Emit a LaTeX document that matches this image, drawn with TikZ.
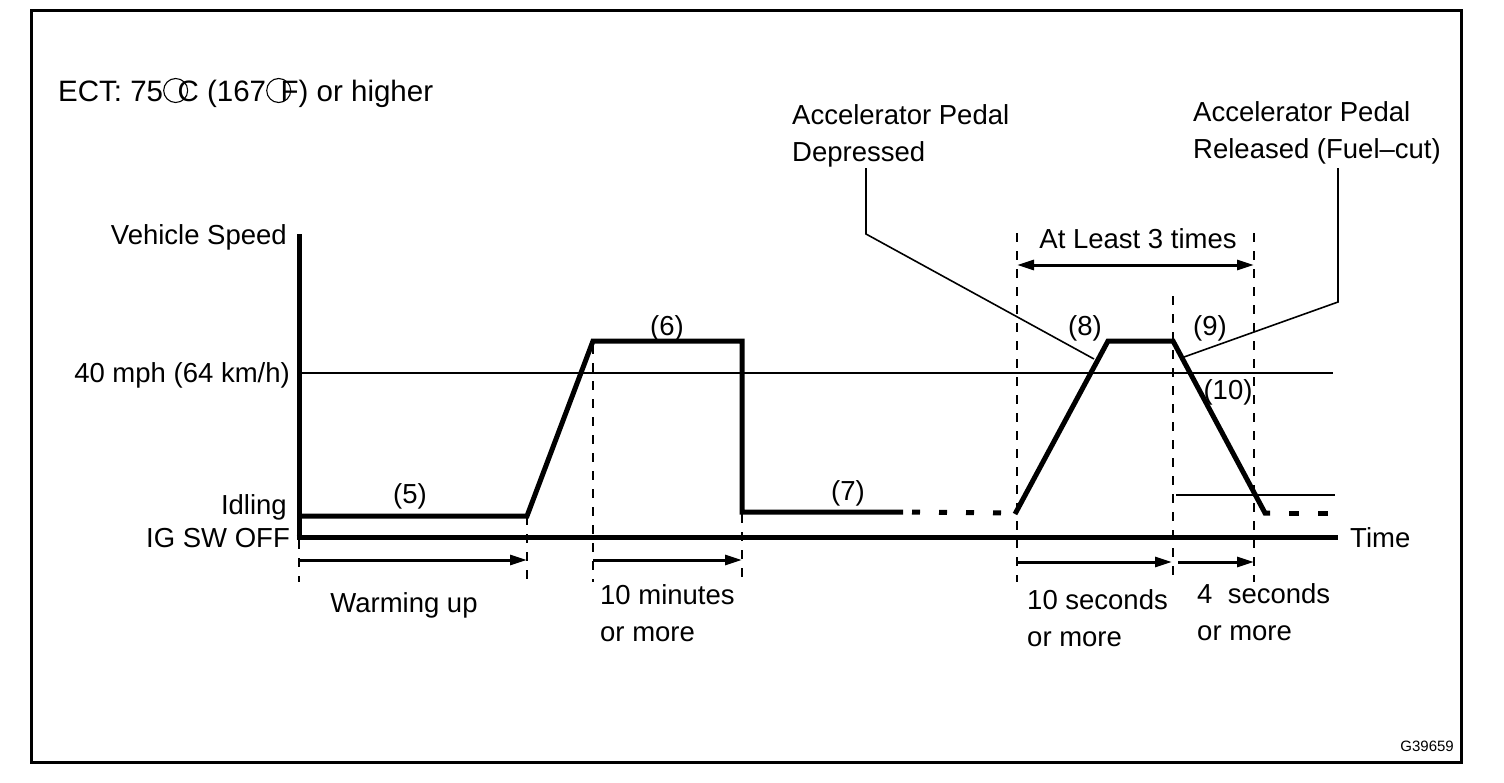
\documentclass[tikz,border=0pt]{standalone}
\usepackage{fontspec}
\setmainfont{Liberation Sans}
\usetikzlibrary{arrows.meta}
\newcommand{\degmark}[1]{\makebox[14.5pt][l]{\tikz[baseline=0pt]\draw[line width=1.1pt] (12.5pt,10.5pt) circle[radius=12pt];}#1}
\begin{document}
\begin{tikzpicture}[x=1pt,y=-1pt,
  lbl/.style={font=\fontsize{27.5}{37}\selectfont, inner sep=0pt, align=left},
  speedline/.style={line width=5pt, line join=miter},
  axisline/.style={line width=5pt},
  guide/.style={line width=1.8pt, dash pattern=on 9pt off 9pt},
  thinline/.style={line width=1.6pt},
  dimarrow/.style={line width=3pt, -{Triangle[length=17pt,width=10pt]}},
  dimarrows/.style={line width=3pt, {Triangle[length=17pt,width=10pt]}-{Triangle[length=17pt,width=10pt]}}]
\useasboundingbox (0,0) rectangle (1504,782);
\draw[line width=3pt] (31,10) rectangle (1461,762);

% axes
\coordinate (ytop) at (299,234);
\coordinate (origin) at (299,537);
\coordinate (xend) at (1338,537);
\draw[axisline] (ytop) -- (299,540);
\draw[axisline] (296.5,537) -- (xend);

% reference lines
\coordinate (ref40a) at (299,373);
\coordinate (ref40b) at (1333,373);
\draw[thinline] (ref40a) -- (ref40b);
\coordinate (refla) at (1176,495);
\coordinate (reflb) at (1335,495);
\draw[thinline] (refla) -- (reflb);

% speed profile
\coordinate (p0) at (299,516);
\coordinate (p1) at (527,516);
\coordinate (p2) at (593,341);
\coordinate (p3) at (742,341);
\coordinate (p4) at (742,512);
\coordinate (p5) at (903,512);
\coordinate (p6) at (1015,514);
\coordinate (p7) at (1108,341);
\coordinate (p8) at (1173,341);
\coordinate (p9) at (1265,513);
\coordinate (p10) at (1338,513);
\draw[speedline] (p0) -- (p1) -- (p2) -- (p3) -- (p4) -- (p5);
\draw[line width=5pt, dash pattern=on 8pt off 19pt] ([xshift=9pt]p5) -- (1006,513);
\draw[speedline] (p6) -- (p7) -- (p8) -- (p9) -- (1270,513);
\draw[line width=5pt, dash pattern=on 10pt off 19pt] (1289,513) -- (p10);

% dashed guides
\draw[guide] (299,540) -- (299,582);
\draw[guide] (527,516) -- (527,582);
\draw[guide] (593,345) -- (593,582);
\draw[guide] (742,514) -- (742,582);
\draw[guide] (1017,233) -- (1017,582);
\draw[guide] (1173,296) -- (1173,582);
\draw[guide] (1254,233) -- (1254,582);

% time arrows
\coordinate (a1s) at (299,560); \coordinate (a1e) at (527,560);
\coordinate (a2s) at (593,560); \coordinate (a2e) at (742,560);
\coordinate (a3s) at (1017,562); \coordinate (a3e) at (1172,562);
\coordinate (a4s) at (1178,562); \coordinate (a4e) at (1254,562);
\draw[dimarrow] (a1s) -- (a1e);
\draw[dimarrow] (a2s) -- (a2e);
\draw[dimarrow] (a3s) -- (a3e);
\draw[dimarrow] (a4s) -- (a4e);
\coordinate (b1) at (1017,265); \coordinate (b2) at (1254,265);
\draw[dimarrows] (b1) -- (b2);

% leaders
\coordinate (l1a) at (866,168); \coordinate (l1b) at (866,234); \coordinate (l1c) at (1094,359);
\draw[thinline] (l1a) -- (l1b) -- (l1c);
\coordinate (l2a) at (1338,168); \coordinate (l2b) at (1338,302); \coordinate (l2c) at (1184,357);
\draw[thinline] (l2a) -- (l2b) -- (l2c);

% texts
\node[lbl, font=\fontsize{29.5}{37}\selectfont, anchor=base west] (ect) at (58,101) {ECT: 75\degmark{C} (167\degmark{F}) or higher};
\node[lbl, anchor=base east] (vs) at (287,244) {Vehicle Speed};
\node[lbl, anchor=base east] (mph) at (290,382) {40 mph (64 km/h)};
\node[lbl, anchor=base east] (idl) at (287,514) {Idling};
\node[lbl, anchor=base east] (igsw) at (290,547) {IG SW OFF};
\node[lbl, anchor=base west] (time) at (1350,547) {Time};
\node[lbl, anchor=base] (n5) at (410,503) {(5)};
\node[lbl, anchor=base] (n6) at (667,335) {(6)};
\node[lbl, anchor=base] (n7) at (848,500) {(7)};
\node[lbl, anchor=base] (n8) at (1085,335) {(8)};
\node[lbl, anchor=base] (n9) at (1210,335) {(9)};
\node[lbl, anchor=base] (n10) at (1228,399) {(10)};
\node[lbl, anchor=base] (warm) at (404,612) {Warming up};
\node[lbl, anchor=base west] (tenmin) at (600,641) {10 minutes\\or more};
\node[lbl, anchor=base west] (tensec) at (1027,646) {10 seconds\\or more};
\node[lbl, anchor=base west] (foursec) at (1197,640) {4\ \ seconds\\or more};
\node[lbl, anchor=base] (least) at (1138,248) {At Least 3 times};
\node[lbl, anchor=base west] (dep) at (792,161) {Accelerator Pedal\\Depressed};
\node[lbl, anchor=base west] (rel) at (1193,158) {Accelerator Pedal\\Released (Fuel--cut)};
\node[font=\fontsize{15}{18}\selectfont, inner sep=0pt, anchor=base east] (code) at (1454,751) {G39659};
\end{tikzpicture}
\end{document}
